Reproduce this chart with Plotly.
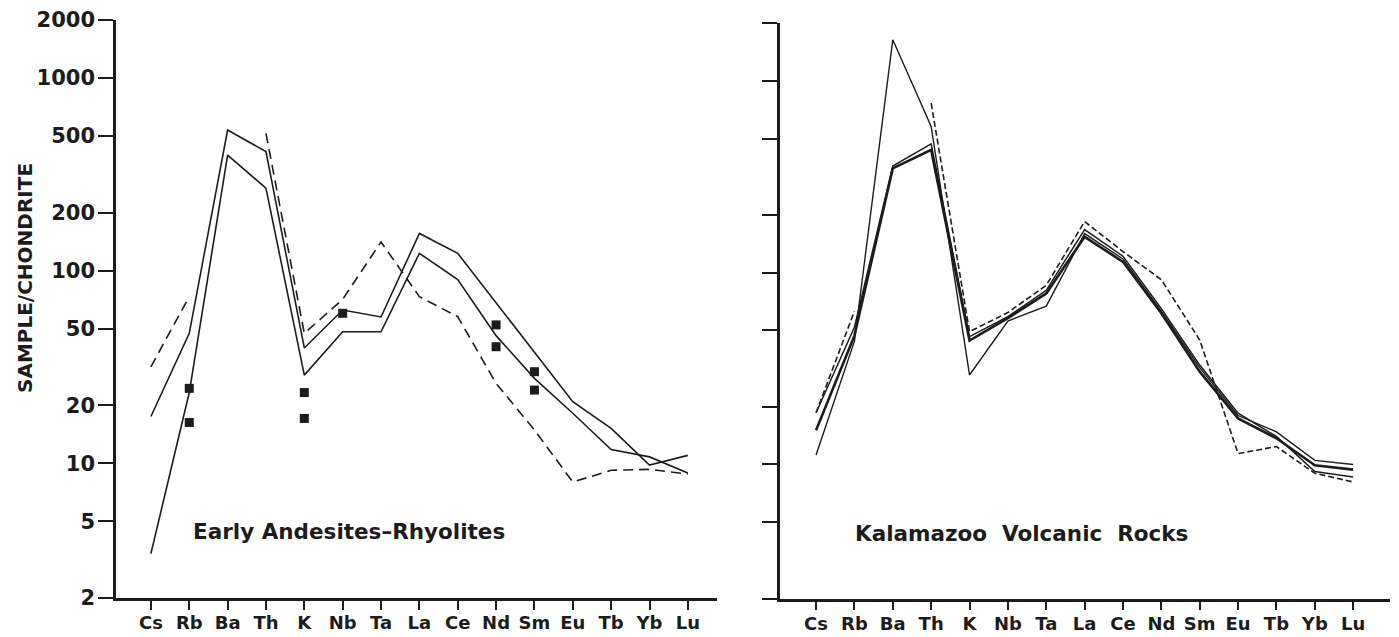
import plotly.graph_objects as go

elements = ["Cs", "Rb", "Ba", "Th", "K", "Nb", "Ta", "La", "Ce", "Nd", "Sm", "Eu", "Tb", "Yb", "Lu"]

# Left panel: Early Andesites-Rhyolites
early_upper = [17.5, 47.3, 537, 415, 39.7, 62.5, 57.5, 156, 123, 68, 37.5, 20.9, 15.2, 9.8, 11.0]
early_lower = [3.4, 23.3, 398, 268, 28.7, 48.2, 48.2, 123, 90, 46, 27.6, 18.2, 11.8, 10.8, 8.9]
early_dashed = [31.7, 73.3, None, 516, 47.3, 71, 141, 73.3, 57.7, 26.0, 14.9, 8.0, 9.2, 9.3, 8.8]
square_elements = ["Rb", "Rb", "K", "K", "Nb", "Nd", "Nd", "Sm", "Sm"]
square_values = [24.5, 16.3, 23.3, 17.1, 60.1, 52.3, 40.3, 29.9, 24.0]

# Right panel: Kalamazoo Volcanic Rocks
kal_thin = [11.2, 44, 1640, 580, 29.3, 56, 67, 160, 118, 63, 32, 18, 14.8, 10.5, 10.0]
kal_heavy = [15.1, 47, 350, 437, 44.3, 58, 78, 154, 114, 61.5, 30.5, 17.4, 13.7, 9.9, 9.4]
kal_thin2 = [18.6, 52, 360, 470, 46.4, 59, 81, 168, 122, 65, 33, 18.5, 14.0, 9.2, 8.6]
kal_dashed = [18.6, 63, None, 766, 49.3, 62, 86, 185, 129, 92, 44.6, 11.4, 12.4, 9.0, 8.1]

ytick_vals = [2, 5, 10, 20, 50, 100, 200, 500, 1000, 2000]
ytick_text = ["2", "5", "10", "20", "50", "100", "200", "500", "1000", "2000"]

INK = "#1c1c1c"
FONT = "DejaVu Sans"

fig = go.Figure()

def line(x, y, xa, ya, width=1.6, dash="solid"):
    fig.add_trace(go.Scatter(x=x, y=y, xaxis=xa, yaxis=ya, mode="lines",
                             line=dict(color=INK, width=width, dash=dash),
                             connectgaps=False, showlegend=False, hoverinfo="skip"))

line(elements, early_upper, "x", "y")
line(elements, early_lower, "x", "y")
line(elements, early_dashed, "x", "y", dash="10px,6px")
fig.add_trace(go.Scatter(x=square_elements, y=square_values, xaxis="x", yaxis="y",
                         mode="markers", marker=dict(symbol="square", size=9, color=INK),
                         showlegend=False, hoverinfo="skip"))

line(elements, kal_thin, "x2", "y2", width=1.4)
line(elements, kal_heavy, "x2", "y2", width=2.6)
line(elements, kal_thin2, "x2", "y2", width=1.5)
line(elements, kal_dashed, "x2", "y2", width=1.6, dash="6px,3px")

W, H = 1399, 637

xcommon = dict(type="category", categoryorder="array", categoryarray=elements,
               showline=True, linecolor=INK, linewidth=2.5, ticks="outside", ticklen=9,
               tickwidth=2, tickcolor=INK, showgrid=False, zeroline=False, automargin=False,
               ticklabelstandoff=-2,
               tickfont=dict(family=FONT, size=18, color=INK, weight="bold"))
ycommon = dict(type="log", showline=True, linecolor=INK, linewidth=2.5, ticks="outside",
               ticklen=15, tickwidth=2, tickcolor=INK, showgrid=False, zeroline=False,
               automargin=False, tickvals=ytick_vals, ticktext=ytick_text,
               ticklabelstandoff=-1,
               tickfont=dict(family=FONT, size=21, color=INK, weight="bold"))

fig.update_layout(
    width=W, height=H,
    margin=dict(l=0, r=0, t=0, b=0),
    paper_bgcolor="white", plot_bgcolor="white",
    xaxis=dict(xcommon, domain=[116 / W, 717 / W], range=[-0.91, 14.76], anchor="y"),
    yaxis=dict(ycommon, domain=[1 - 598 / H, 1 - 20 / H], range=[0.30103, 3.30103], anchor="x"),
    xaxis2=dict(xcommon, domain=[780 / W, 1390 / W], range=[-0.94, 14.96], anchor="y2"),
    yaxis2=dict(ycommon, domain=[1 - 598.5 / H, 1 - 23.3 / H], range=[0.30103, 3.30103],
                anchor="x2", showticklabels=False),
    annotations=[
        dict(text="SAMPLE/CHONDRITE", xref="paper", yref="paper", x=25 / W, y=1 - 278 / H,
             textangle=-90, showarrow=False, xanchor="center", yanchor="middle",
             font=dict(family=FONT, size=20, color=INK, weight="bold")),
        dict(text="Early Andesites\u2013Rhyolites", xref="paper", yref="paper",
             x=349 / W, y=1 - 531 / H, showarrow=False, xanchor="center", yanchor="middle",
             font=dict(family=FONT, size=21.5, color=INK, weight="bold")),
        dict(text="Kalamazoo\u00a0\u00a0Volcanic\u00a0\u00a0Rocks", xref="paper", yref="paper",
             x=1021 / W, y=1 - 533 / H, showarrow=False, xanchor="center", yanchor="middle",
             font=dict(family=FONT, size=21.5, color=INK, weight="bold")),
    ],
)

fig.write_html("out.html")
